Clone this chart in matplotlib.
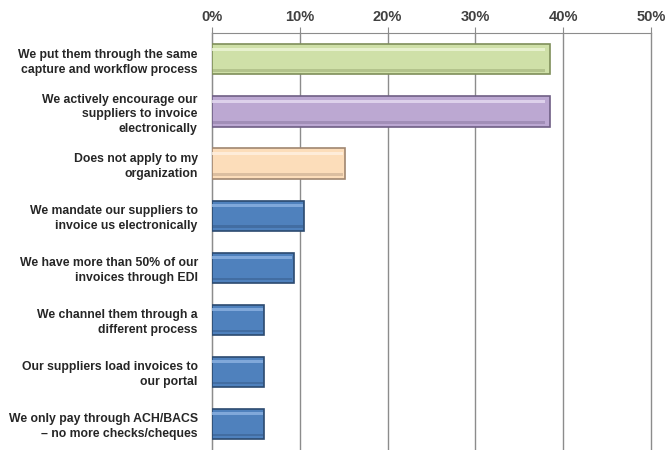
import numpy as np
import matplotlib.pyplot as plt
from matplotlib.ticker import PercentFormatter

labels = [
    "We put them through the same\ncapture and workflow process",
    "We actively encourage our\nsuppliers to invoice\nelectronically",
    "Does not apply to my\norganization",
    "We mandate our suppliers to\ninvoice us electronically",
    "We have more than 50% of our\ninvoices through EDI",
    "We channel them through a\ndifferent process",
    "Our suppliers load invoices to\nour portal",
    "We only pay through ACH/BACS\n\u2013 no more checks/cheques",
]
values = [38.5, 38.5, 15.2, 10.5, 9.3, 5.9, 5.9, 5.9]
face_colors = ["#CFE0A8", "#BCA8D2", "#FCDDBA", "#4F81BD",
               "#4F81BD", "#4F81BD", "#4F81BD", "#4F81BD"]
edge_colors = ["#7F8F5A", "#6F5F85", "#A08670", "#2C4A70",
               "#2C4A70", "#2C4A70", "#2C4A70", "#2C4A70"]
light_colors = ["#EEF6D8", "#E6DCF2", "#FFF1E2", "#8DB3E2",
                "#8DB3E2", "#8DB3E2", "#8DB3E2", "#8DB3E2"]

plt.rcParams['font.family'] = ['Liberation Sans']

fig = plt.figure(figsize=(6.68, 4.5), dpi=100)
ax = fig.add_axes([0.317, 0.0, 0.658, 0.926])

y = np.arange(len(labels))
h = 0.58
ax.barh(y, values, height=h, color=face_colors, edgecolor=edge_colors,
        linewidth=1.2, zorder=3)
# bevel: light strip near the top, darker strip near the bottom
ax.barh(y - h * 0.34, [v * 0.985 for v in values], height=h * 0.1,
        color=light_colors, linewidth=0, zorder=4, alpha=0.8)
ax.barh(y + h * 0.37, [v * 0.985 for v in values], height=h * 0.09,
        color=edge_colors, linewidth=0, zorder=4, alpha=0.35)

ax.set_xlim(0, 50)
ax.set_ylim(len(labels) - 0.5, -0.5)
ax.set_xticks([0, 10, 20, 30, 40, 50])
ax.xaxis.set_major_formatter(PercentFormatter(decimals=0))
ax.xaxis.tick_top()
ax.tick_params(axis='x', length=4, color='#8C8C8C', pad=3,
               labelsize=10.5, labelcolor='#404040')
for t in ax.get_xticklabels():
    t.set_fontweight('bold')
ax.set_yticks(y)
ax.set_yticklabels(labels, fontsize=8.8, fontweight='bold', color='#262626',
                   linespacing=1.3)
ax.tick_params(axis='y', length=0, pad=10)
ax.grid(axis='x', color='#8C8C8C', linewidth=1, zorder=0)
for line in ax.get_xgridlines():
    line.set_clip_on(False)
for s in ['right', 'bottom']:
    ax.spines[s].set_visible(False)
ax.spines['top'].set_color('#8C8C8C')
ax.spines['left'].set_color('#8C8C8C')

fig.savefig("out.png", dpi=100)
